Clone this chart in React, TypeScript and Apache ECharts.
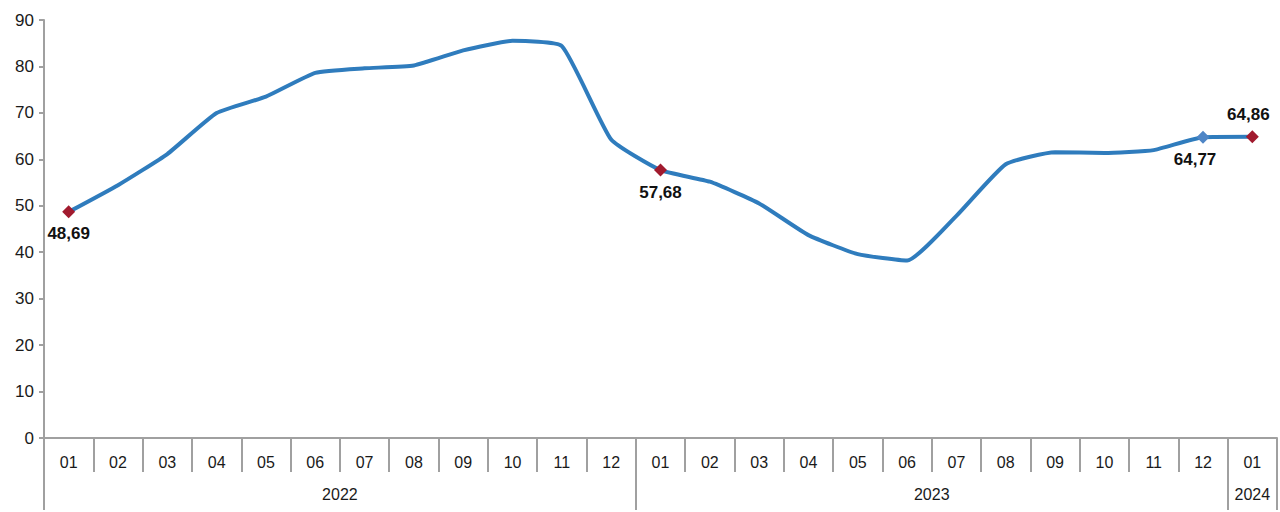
import React, { useEffect, useRef } from "react";
import * as echarts from "echarts";

const months = ["01","02","03","04","05","06","07","08","09","10","11","12","01","02","03","04","05","06","07","08","09","10","11","12","01"];
const values = [48.69,54.44,61.14,69.97,73.5,78.62,79.6,80.21,83.45,85.51,84.39,64.27,57.68,55.18,50.51,43.68,39.59,38.21,47.83,58.94,61.53,61.36,61.98,64.77,64.86];
const years = ["2022", "2023", "2024"];
// year groups: [start month index, count]
const yearSpans = [[0, 12], [12, 12], [24, 1]];
const yTicks = [0, 10, 20, 30, 40, 50, 60, 70, 80, 90];
const labelled = [0, 12, 23, 24];

export default function App() {
  const ref = useRef<HTMLDivElement>(null);
  useEffect(() => {
    if (!ref.current) return;
    const chart = echarts.init(ref.current, null, { renderer: "svg" });
    const n = months.length;
    const halfCats: string[] = [];
    const labelAt: Record<number, string> = {};
    const tickAt = new Set<number>();
    yearSpans.forEach(([s, c], i) => {
      labelAt[s * 2 + c] = years[i];
      tickAt.add(s * 2);
      tickAt.add((s + c) * 2);
    });
    for (let k = 0; k <= n * 2; k++) halfCats.push(labelAt[k] ?? "");
    const font = "'Liberation Sans', Arial, sans-serif";
    const data = values.map((v, i) => {
      if (!labelled.includes(i)) return { value: v };
      const isBlue = i === 23;
      let pos: any = "bottom";
      let offset = [0, 2];
      if (i === 24) { pos = "top"; offset = [-4, -2]; }
      if (i === 23) { offset = [-8, 2]; }
      return {
        value: v,
        symbol: "diamond",
        symbolSize: 13,
        itemStyle: { color: isBlue ? "#4f86c6" : "#a11a2e" },
        label: {
          show: true,
          position: pos,
          offset,
          formatter: (p: any) => p.value.toFixed(2).replace(".", ","),
          fontSize: 17,
          fontWeight: "bold",
          color: "#111",
          fontFamily: font,
        },
      };
    });
    chart.setOption({
      animation: false,
      backgroundColor: "#fff",
      grid: { left: 44, right: 3, top: 20, bottom: 74, containLabel: false },
      xAxis: [
        {
          type: "category",
          data: months,
          boundaryGap: true,
          axisLine: { lineStyle: { color: "#a0a0a0", width: 2 } },
          axisTick: { show: true, interval: 0, length: 34, lineStyle: { color: "#a0a0a0", width: 2 } },
          axisLabel: { interval: 0, margin: 16, fontSize: 16, color: "#1a1a1a", fontFamily: font },
        },
        {
          type: "category",
          data: halfCats,
          boundaryGap: false,
          position: "bottom",
          axisLine: { show: false },
          axisTick: {
            show: true,
            length: 72,
            interval: (idx: number) => tickAt.has(idx),
            lineStyle: { color: "#a0a0a0", width: 2 },
          },
          axisLabel: {
            interval: (idx: number) => labelAt[idx] !== undefined,
            margin: 48,
            fontSize: 16,
            color: "#1a1a1a",
            fontFamily: font,
          },
        },
      ],
      yAxis: {
        type: "value",
        min: yTicks[0],
        max: yTicks[yTicks.length - 1],
        interval: 10,
        splitLine: { show: false },
        axisLine: { show: true, lineStyle: { color: "#a0a0a0", width: 2 } },
        axisTick: { show: true, length: 5, lineStyle: { color: "#a0a0a0", width: 2 } },
        axisLabel: { fontSize: 17, color: "#1a1a1a", margin: 10, fontFamily: font },
      },
      series: [
        {
          type: "line",
          xAxisIndex: 0,
          data,
          smooth: 0.15,
          symbol: "none",
          showSymbol: true,
          lineStyle: { color: "#2f7cbd", width: 4 },
          itemStyle: { color: "#2f7cbd" },
          z: 3,
        },
      ],
    });
    return () => chart.dispose();
  }, []);
  return <div ref={ref} style={{ position: "fixed", left: 0, top: 0, width: 1280, height: 512 }} />;
}
